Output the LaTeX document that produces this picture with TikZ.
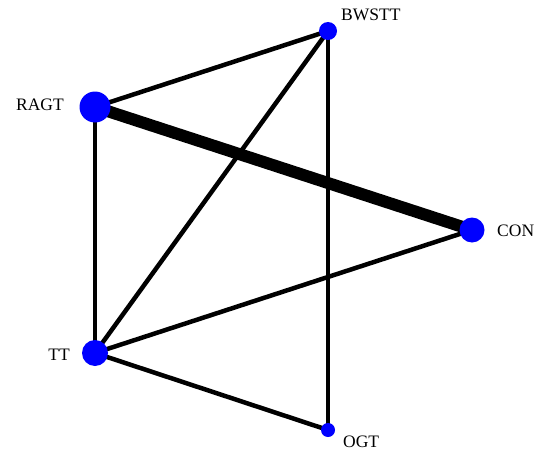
\documentclass[tikz,border=0pt]{standalone}
\usepackage{fontspec}
\setmainfont{Liberation Serif}
\pgfdeclarelayer{bg}
\pgfsetlayers{bg,main}
\begin{document}
\begin{tikzpicture}[x=1pt,y=-1pt,
  vert/.style={circle,fill=blue,draw=none,inner sep=0pt,minimum size=#1},
  lab/.style={inner sep=0pt,font=\fontsize{17.5}{17.5}\selectfont},
  edge/.style={line width=4.5pt,black},
  heavy/.style={line width=12pt,black}]
\useasboundingbox (0,0) rectangle (546,460);
\node[vert=18pt] (B) at (328,31) {};
\node[vert=31pt] (R) at (95,107) {};
\node[vert=25pt] (C) at (472,230) {};
\node[vert=26pt] (T) at (95,353) {};
\node[vert=14pt] (O) at (328,430) {};
\begin{pgfonlayer}{bg}
\fill[white] (0,0) rectangle (546,460);
\draw[edge] (R.center) -- (B.center);
\draw[edge] (R.center) -- (T.center);
\draw[edge] (B.center) -- (T.center);
\draw[edge] (B.center) -- (O.center);
\draw[edge] (T.center) -- (C.center);
\draw[edge] (T.center) -- (O.center);
\draw[heavy] (R.center) -- (C.center);
\end{pgfonlayer}
\node[lab,anchor=west] (Bl) at (341,15) {BWSTT};
\node[lab,anchor=east] (Rl) at (64,105) {RAGT};
\node[lab,anchor=west] (Cl) at (497,231) {CON};
\node[lab,anchor=east] (Tl) at (70,355) {TT};
\node[lab,anchor=west] (Ol) at (343,442) {OGT};
\end{tikzpicture}
\end{document}
